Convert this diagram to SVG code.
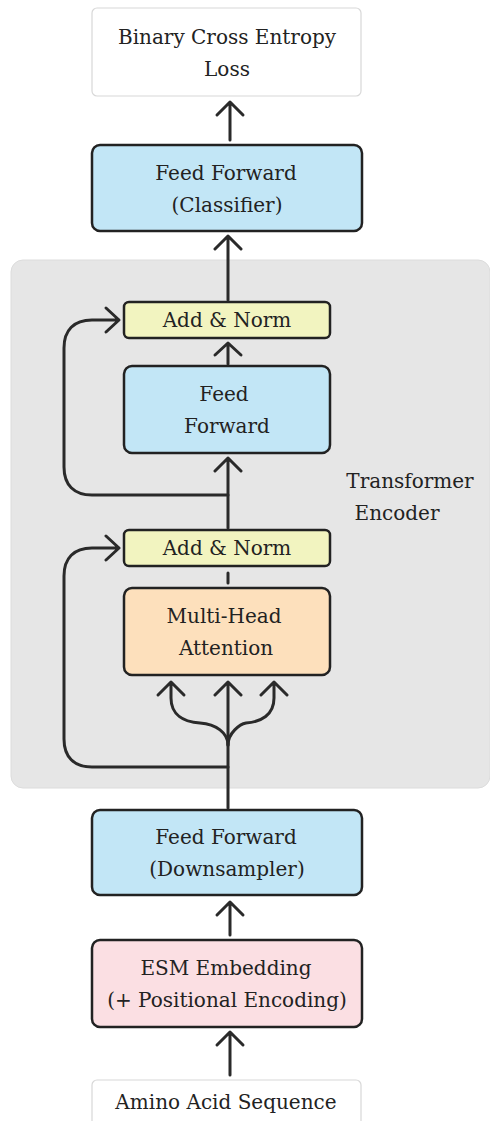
<svg xmlns="http://www.w3.org/2000/svg" width="490" height="1121" viewBox="0 0 490 1121">
<defs>
<style>
.t{font-family:"DejaVu Serif","Liberation Serif",serif;font-size:20px;fill:#222;text-anchor:middle}
.n{stroke:#222;stroke-width:2.5}
.c{fill:none;stroke:#2a2a2a;stroke-width:3;stroke-linecap:round;stroke-linejoin:round}
.plain{fill:#fff;stroke:#d8d8d8;stroke-width:1.2}
.blue{fill:#c2e6f6}
.yel{fill:#f2f4c0}
.peach{fill:#fde0bc}
.pink{fill:#fbdfe3}
</style>
</defs>
<rect width="490" height="1121" fill="#fff"/>
<g id="encoder">
<rect x="11" y="260" width="479" height="528" rx="12" fill="#e6e6e6" stroke="#dcdcdc" stroke-width="1"/>
<text class="t" x="410" y="488">Transformer</text>
<text class="t" x="397" y="520">Encoder</text>
</g>
<g id="loss">
<rect class="plain" x="92" y="8" width="269" height="88" rx="5"/>
<text class="t" x="227" y="44">Binary Cross Entropy</text>
<text class="t" x="227" y="76">Loss</text>
</g>
<g id="classifier">
<rect class="n blue" x="92" y="145" width="270" height="86" rx="8"/>
<text class="t" x="226" y="180">Feed Forward</text>
<text class="t" x="227" y="212">(Classifier)</text>
</g>
<g id="addnorm2">
<rect class="n yel" x="124" y="302" width="206" height="36" rx="5"/>
<text class="t" x="227" y="327">Add &amp; Norm</text>
</g>
<g id="ff">
<rect class="n blue" x="124" y="366" width="206" height="87" rx="8"/>
<text class="t" x="224" y="401">Feed</text>
<text class="t" x="227" y="433">Forward</text>
</g>
<g id="addnorm1">
<rect class="n yel" x="124" y="530" width="206" height="36" rx="5"/>
<text class="t" x="227" y="555">Add &amp; Norm</text>
</g>
<g id="mha">
<rect class="n peach" x="124" y="588" width="206" height="87" rx="8"/>
<text class="t" x="224" y="623">Multi-Head</text>
<text class="t" x="226" y="655">Attention</text>
</g>
<g id="downsampler">
<rect class="n blue" x="92" y="810" width="270" height="85" rx="8"/>
<text class="t" x="226" y="844">Feed Forward</text>
<text class="t" x="227" y="876">(Downsampler)</text>
</g>
<g id="esm">
<rect class="n pink" x="92" y="940" width="270" height="87" rx="8"/>
<text class="t" x="226" y="975">ESM Embedding</text>
<text class="t" x="227" y="1007">(+ Positional Encoding)</text>
</g>
<g id="input">
<rect class="plain" x="92" y="1080" width="269" height="50" rx="5"/>
<text class="t" x="226" y="1109">Amino Acid Sequence</text>
</g>
<g id="connectors">
<path class="c" d="M230,1075 V1032 M217,1045 L230,1032 L243,1045"/>
<path class="c" d="M230,935 V902 M217,915 L230,902 L243,915"/>
<path class="c" d="M230,140 V102 M217,115 L230,102 L243,115"/>
<path class="c" d="M228,300 V236 M215,249 L228,236 L241,249"/>
<path class="c" d="M228,364 V344 M215,355 L228,343 L241,355"/>
<path class="c" d="M228,528 V458 M215,471 L228,458 L241,471"/>
<path class="c" d="M228,573 V583"/>
<path class="c" d="M228,808 V682 M215,695 L228,682 L241,695"/>
<path class="c" d="M171,682 V698 C171,715 184,722 200,723 C216,724 228,733 228,745 M158,695 L171,682 L184,695"/>
<path class="c" d="M274,682 V698 C274,715 261,722 246,723 C240,724 228,733 228,745 M261,695 L274,682 L287,695"/>
<path class="c" d="M228,495 H92 C74,495 64,485 64,467 V348 C64,330 74,320 92,320 H118 M106,308 L119,320 L106,332"/>
<path class="c" d="M228,767 H92 C74,767 64,757 64,739 V576 C64,558 74,548 92,548 H118 M106,536 L119,548 L106,560"/>
</g>
</svg>
